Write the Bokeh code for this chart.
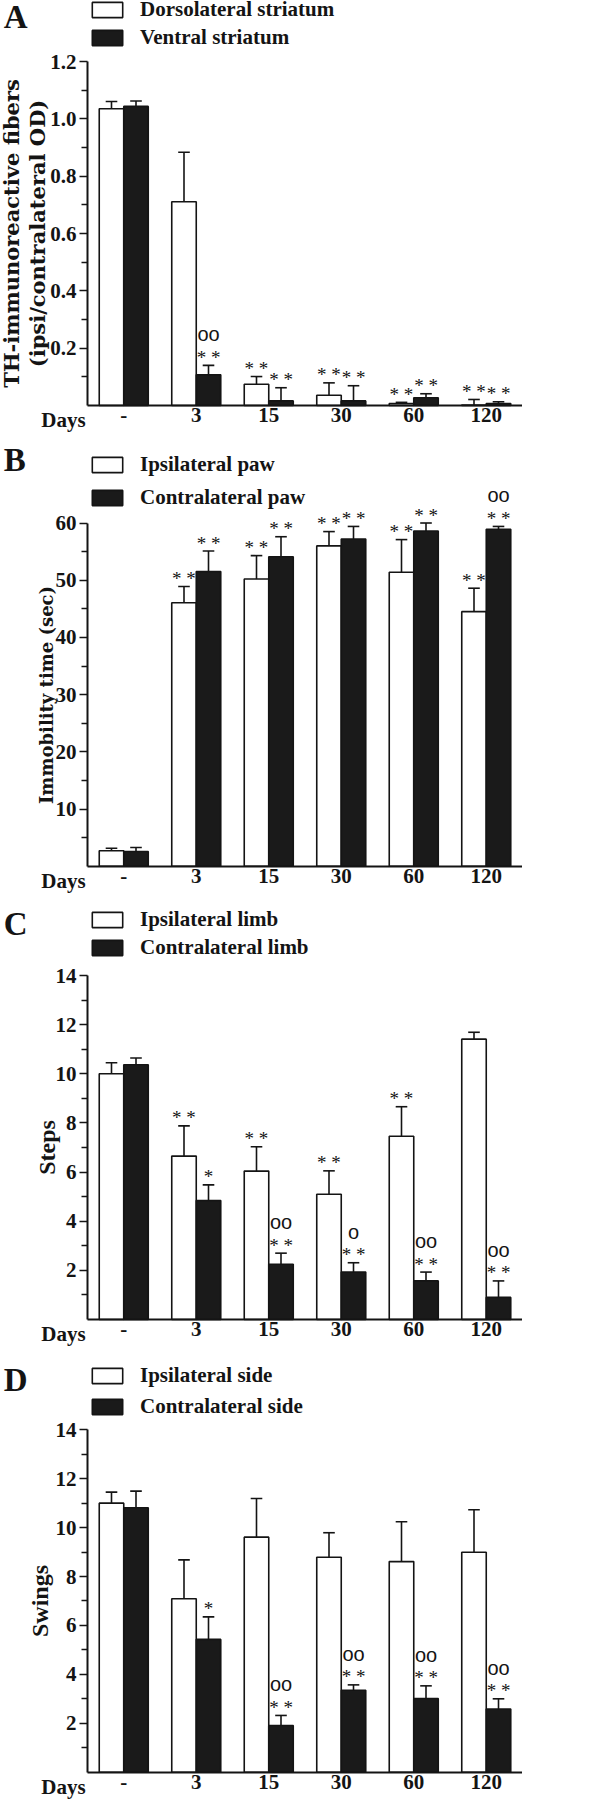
import numpy as np
from bokeh.plotting import figure
from bokeh.models import (Range1d, FixedTicker, Legend, LegendItem, LinearAxis,
                          ColumnDataSource, NumeralTickFormatter)
from bokeh.layouts import column
from bokeh.transform import dodge
from bokeh.core.properties import value
from bokeh.embed import file_html
from bokeh.resources import INLINE

INK = "#141414"
SERIF = "Liberation Serif"

days = ["-", "3", "15", "30", "60", "120"]

# ---- Panel A: TH-immunoreactive fibers
a_labels = ["Dorsolateral striatum", "Ventral striatum"]
a_dors = [1.036, 0.711, 0.074, 0.036, 0.007, 0.002]
a_dors_err = [0.025, 0.173, 0.027, 0.043, 0.004, 0.019]
a_vent = [1.044, 0.107, 0.016, 0.016, 0.027, 0.007]
a_vent_err = [0.019, 0.033, 0.046, 0.053, 0.014, 0.006]
a_dors_sig = ["", "", "* *", "* *", "* *", "* *"]
a_vent_sig = ["", "* *", "* *", "* *", "* *", "* *"]
a_vent_hash = ["", "oo", "", "", "", ""]
a_yticks = [0.2, 0.4, 0.6, 0.8, 1.0, 1.2]
a_yminor = [0.1, 0.3, 0.5, 0.7, 0.9, 1.1]

# ---- Panel B: Immobility time
b_labels = ["Ipsilateral paw", "Contralateral paw"]
b_ipsi = [2.7, 46.05, 50.2, 56.0, 51.4, 44.5]
b_ipsi_err = [0.45, 2.85, 4.1, 2.5, 5.7, 4.1]
b_contra = [2.57, 51.5, 54.1, 57.2, 58.6, 58.9]
b_contra_err = [0.7, 3.6, 3.5, 2.2, 1.4, 0.5]
b_ipsi_sig = ["", "* *", "* *", "* *", "* *", "* *"]
b_contra_sig = ["", "* *", "* *", "* *", "* *", "* *"]
b_contra_hash = ["", "", "", "", "", "oo"]
b_yticks = [10, 20, 30, 40, 50, 60]
b_yminor = [5, 15, 25, 35, 45, 55]

# ---- Panel C: Steps
c_labels = ["Ipsilateral limb", "Contralateral limb"]
c_ipsi = [10.0, 6.65, 6.04, 5.10, 7.46, 11.41]
c_ipsi_err = [0.45, 1.23, 0.99, 0.95, 1.20, 0.28]
c_contra = [10.37, 4.84, 2.25, 1.93, 1.57, 0.90]
c_contra_err = [0.27, 0.64, 0.45, 0.38, 0.36, 0.67]
c_ipsi_sig = ["", "* *", "* *", "* *", "* *", ""]
c_contra_sig = ["", "*", "* *", "* *", "* *", "* *"]
c_contra_hash = ["", "", "oo", "o", "oo", "oo"]
c_yticks = [2, 4, 6, 8, 10, 12, 14]
c_yminor = [1, 3, 5, 7, 9, 11, 13]

# ---- Panel D: Swings
d_labels = ["Ipsilateral side", "Contralateral side"]
d_ipsi = [11.0, 7.09, 9.61, 8.79, 8.61, 8.99]
d_ipsi_err = [0.45, 1.59, 1.58, 1.00, 1.63, 1.74]
d_contra = [10.81, 5.43, 1.91, 3.35, 3.01, 2.58]
d_contra_err = [0.68, 0.92, 0.41, 0.22, 0.52, 0.42]
d_ipsi_sig = ["", "", "", "", "", ""]
d_contra_sig = ["", "*", "* *", "* *", "* *", "* *"]
d_contra_hash = ["", "", "oo", "oo", "oo", "oo"]
d_yticks = [2, 4, 6, 8, 10, 12, 14]
d_yminor = [1, 3, 5, 7, 9, 11, 13]

PX_PER_GROUP = 72.5
X_LEFT = -0.5 - 87 / PX_PER_GROUP      # left edge of canvas in group units
FRAME_W = 522


def make_panel(letter, legend_labels, ipsi, ipsi_err, contra, contra_err,
               ipsi_sig, contra_sig, contra_hash, yticks, yminor, fmt,
               y_start, y_end, fh, ytitle, title_font, title_size,
               title_standoff, leg_spacing, leg_top, letter_y):
    xs = np.arange(len(days), dtype=float)
    w = 0.338
    p = figure(frame_width=FRAME_W, frame_height=fh,
               x_range=Range1d(X_LEFT, 5.5), y_range=Range1d(y_start, y_end),
               output_backend="svg", toolbar_location=None,
               x_axis_location=None, y_axis_location=None,
               min_border_left=0, min_border_right=0,
               min_border_top=0, min_border_bottom=0)
    p.xgrid.visible = False
    p.ygrid.visible = False
    p.outline_line_color = None

    src_i = ColumnDataSource(dict(x=xs - w / 2, top=ipsi,
                                  err=list(np.array(ipsi) + np.array(ipsi_err)),
                                  sig=ipsi_sig, hash=[""] * len(days)))
    src_c = ColumnDataSource(dict(x=xs + w / 2, top=contra,
                                  err=list(np.array(contra) + np.array(contra_err)),
                                  sig=contra_sig, hash=contra_hash))
    r_i = p.vbar(x="x", top="top", bottom=0, width=w, source=src_i,
                 fill_color="white", line_color=INK, line_width=1.6)
    r_c = p.vbar(x="x", top="top", bottom=0, width=w, source=src_c,
                 fill_color="#1a1a1a", line_color=INK, line_width=1.6)
    for src in (src_i, src_c):
        p.segment(x0="x", y0="top", x1="x", y1="err", source=src,
                  line_color=INK, line_width=1.6)
        p.segment(x0=dodge("x", -0.08), y0="err", x1=dodge("x", 0.08), y1="err",
                  source=src, line_color=INK, line_width=1.6)
        p.text(x="x", y="err", text="sig", source=src, y_offset=-8,
               text_align="center", text_baseline="middle",
               text_font=value(SERIF), text_font_size="19px", text_color=INK)
        p.text(x="x", y="err", text="hash", source=src, y_offset=-31,
               text_align="center", text_baseline="middle",
               text_font=value("Liberation Sans"), text_font_size="20px",
               text_color=INK)

    # legend (inside the frame, top-left next to the y axis)
    item_h = 23.3
    leg_h = 2 * item_h + leg_spacing
    legend = Legend(items=[LegendItem(label=legend_labels[0], renderers=[r_i]),
                           LegendItem(label=legend_labels[1], renderers=[r_c])],
                    location=(88, fh - leg_top - leg_h), orientation="vertical",
                    margin=0, padding=0, spacing=leg_spacing, glyph_width=38,
                    glyph_height=19, label_standoff=14, label_height=19,
                    label_text_font=SERIF, label_text_font_style="bold",
                    label_text_font_size="21px", label_text_color=INK,
                    border_line_alpha=0, background_fill_alpha=0)
    p.add_layout(legend)

    ya = LinearAxis(fixed_location=-0.5, bounds=(0, yticks[-1]))
    ya.ticker = FixedTicker(ticks=yticks, minor_ticks=yminor)
    ya.formatter = NumeralTickFormatter(format=fmt)
    ya.axis_line_width = 2
    ya.axis_line_color = INK
    ya.major_tick_out = 8
    ya.major_tick_in = 0
    ya.minor_tick_out = 6
    ya.minor_tick_in = 0
    ya.major_tick_line_width = 1.6
    ya.minor_tick_line_width = 1.6
    ya.major_tick_line_color = INK
    ya.minor_tick_line_color = INK
    ya.major_label_text_font = SERIF
    ya.major_label_text_font_style = "bold"
    ya.major_label_text_font_size = "21px"
    ya.major_label_text_color = INK
    ya.major_label_standoff = 3
    ya.axis_label = ytitle
    ya.axis_label_text_font = title_font
    ya.axis_label_text_font_style = "bold"
    ya.axis_label_text_font_size = title_size
    ya.axis_label_text_color = INK
    ya.axis_label_text_line_height = 1.05
    ya.axis_label_standoff = title_standoff
    p.add_layout(ya, "left")

    xa = LinearAxis(fixed_location=0, bounds=(-0.5, 5.5))
    xa.ticker = FixedTicker(ticks=list(range(len(days))), minor_ticks=[])
    xa.major_label_overrides = {i: d for i, d in enumerate(days)}
    xa.axis_line_width = 2
    xa.axis_line_color = INK
    xa.major_tick_out = 0
    xa.major_tick_in = 0
    xa.minor_tick_out = 0
    xa.minor_tick_in = 0
    xa.major_label_text_font = SERIF
    xa.major_label_text_font_style = "bold"
    xa.major_label_text_font_size = "21px"
    xa.major_label_text_color = INK
    xa.major_label_standoff = 3
    p.add_layout(xa, "below")

    # panel letter and "Days" caption
    p.text(x=[-1.655], y=[letter_y], text=[letter], text_font=value(SERIF),
           text_font_style="bold", text_font_size="33px",
           text_baseline="middle", text_align="left", text_color=INK)
    p.text(x=[-0.831], y=[0], text=["Days"], text_font=value(SERIF),
           text_font_style="bold", text_font_size="21px", y_offset=3,
           text_baseline="top", text_align="center", text_color=INK)
    return p


pA = make_panel("A", a_labels, a_dors, a_dors_err, a_vent, a_vent_err,
                a_dors_sig, a_vent_sig, a_vent_hash, a_yticks, a_yminor, "0.0",
                -0.13962, 1.41361, 445,
                "TH-immunoreactive fibers\n(ipsi/contralateral OD)",
                "DejaVu Serif", "21px", -3, 3, 0, 1.3543)
pB = make_panel("B", b_labels, b_ipsi, b_ipsi_err, b_contra, b_contra_err,
                b_ipsi_sig, b_contra_sig, b_contra_hash, b_yticks, b_yminor, "0",
                -7.745, 73.55, 465, "Immobility time (sec)",
                "DejaVu Serif", "18px", -4, 8, 10, 70.93)
pC = make_panel("C", c_labels, c_ipsi, c_ipsi_err, c_contra, c_contra_err,
                c_ipsi_sig, c_contra_sig, c_contra_hash, c_yticks, c_yminor, "0",
                -1.9129, 16.646, 456, "Steps",
                SERIF, "24px", -7, 3, 0, 16.08)
pD = make_panel("D", d_labels, d_ipsi, d_ipsi_err, d_contra, d_contra_err,
                d_ipsi_sig, d_contra_sig, d_contra_hash, d_yticks, d_yminor, "0",
                -1.157, 16.586, 434, "Swings",
                SERIF, "24px", 0, 6, 0, 16.05)

layout = column(pA, pB, pC, pD, spacing=0)
open("out.html", "w").write(file_html(layout, INLINE))
